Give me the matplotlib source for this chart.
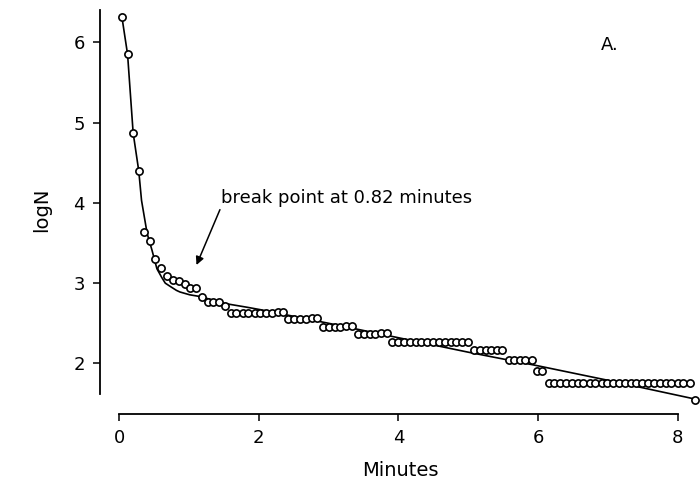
import numpy as np
import matplotlib
matplotlib.use("Agg")
import matplotlib.pyplot as plt

# survivor counts (minutes, logN)
minutes = [0.04, 0.12, 0.20, 0.28, 0.36, 0.44, 0.52, 0.60, 0.69, 0.77,
           0.86, 0.94, 1.02, 1.10, 1.18, 1.27, 1.35, 1.43, 1.52, 1.60,
           1.68, 1.77, 1.85, 1.94, 2.02, 2.10, 2.19, 2.27, 2.35,
           2.42, 2.50, 2.59, 2.67, 2.76, 2.84,
           2.92, 3.00, 3.09, 3.17, 3.25, 3.33,
           3.42, 3.50, 3.59, 3.67, 3.75, 3.84,
           3.91, 4.00, 4.08, 4.16, 4.25, 4.33, 4.41, 4.50, 4.58, 4.66,
           4.75, 4.83, 4.91, 5.00,
           5.08, 5.17, 5.25, 5.33, 5.41, 5.49,
           5.58, 5.66, 5.74, 5.82, 5.91,
           5.98, 6.06,
           6.15, 6.23, 6.32, 6.40, 6.49, 6.57, 6.65, 6.74, 6.82, 6.91,
           6.99, 7.07, 7.16, 7.24, 7.33, 7.41, 7.49, 7.58, 7.66, 7.75,
           7.83, 7.91, 8.00, 8.08, 8.17,
           8.25]
logN = [6.31, 5.85, 4.87, 4.40, 3.64, 3.53, 3.30, 3.19, 3.09, 3.04,
        3.03, 2.99, 2.94, 2.94, 2.83, 2.77, 2.77, 2.77, 2.71, 2.63,
        2.63, 2.63, 2.63, 2.63, 2.63, 2.63, 2.63, 2.64, 2.64,
        2.55, 2.55, 2.55, 2.55, 2.56, 2.56,
        2.46, 2.46, 2.46, 2.46, 2.47, 2.47,
        2.37, 2.37, 2.37, 2.37, 2.38, 2.38,
        2.27, 2.27, 2.27, 2.27, 2.27, 2.27, 2.27, 2.27, 2.27, 2.27,
        2.27, 2.27, 2.27, 2.27,
        2.17, 2.17, 2.17, 2.17, 2.17, 2.17,
        2.04, 2.04, 2.04, 2.04, 2.04,
        1.91, 1.91,
        1.75, 1.75, 1.75, 1.75, 1.75, 1.75, 1.75, 1.75, 1.75, 1.75,
        1.75, 1.75, 1.75, 1.75, 1.75, 1.75, 1.75, 1.75, 1.75, 1.75,
        1.75, 1.75, 1.75, 1.75, 1.75,
        1.55]

# fitted curve, vertices
fit_t = [0.04, 0.12, 0.20, 0.28, 0.32, 0.40, 0.47, 0.54, 0.61, 0.66,
         0.73, 0.82, 0.87, 1.01, 1.18, 1.49, 1.83, 2.02, 3.00, 4.00,
         5.00, 6.00, 7.00, 8.25]
fit_logN = [6.31, 5.85, 4.87, 4.40, 4.03, 3.62, 3.41, 3.18, 3.07, 3.00,
            2.96, 2.91, 2.89, 2.855, 2.83, 2.75, 2.70, 2.67, 2.50, 2.32,
            2.14, 1.97, 1.79, 1.556]

plt.rcParams['font.family'] = ['DejaVu Sans']

fig = plt.figure(figsize=(7, 4.86), dpi=100)
ax = fig.add_axes([100/700, 1 - 414/486, 600/700, 409/486])

ax.plot(fit_t, fit_logN, color='black', lw=1.2, zorder=2, clip_on=False)
ax.plot(minutes, logN, 'o', mfc='white', mec='black', ms=5.2, mew=1.2,
        zorder=3, clip_on=False)

ax.set_xlim(-0.275, 8.32)
ax.set_ylim(1.37, 6.465)
ax.set_xticks([0, 2, 4, 6, 8])
ax.set_yticks([2, 3, 4, 5, 6])

for s in ['top', 'right']:
    ax.spines[s].set_visible(False)
ax.spines['left'].set_bounds(1.62, 6.40)
ax.spines['bottom'].set_bounds(0, 8)
ax.spines['left'].set_linewidth(1.3)
ax.spines['bottom'].set_linewidth(1.3)
ax.tick_params(direction='out', length=5, width=1.1, labelsize=13, pad=6)

ax.set_xlabel('Minutes', fontsize=14, labelpad=10)
ax.set_ylabel('logN', fontsize=14, labelpad=16)

ax.text(6.9, 5.97, 'A.', fontsize=13, ha='left', va='center')
ax.annotate('break point at 0.82 minutes', xy=(1.107, 3.226),
            xytext=(1.46, 4.0), fontsize=13, ha='left', va='baseline',
            arrowprops=dict(arrowstyle='-|>', color='black', lw=1.1,
                            mutation_scale=12, shrinkA=0, shrinkB=0,
                            relpos=(0.0, 0.0)))

fig.savefig('out.png', dpi=100)
